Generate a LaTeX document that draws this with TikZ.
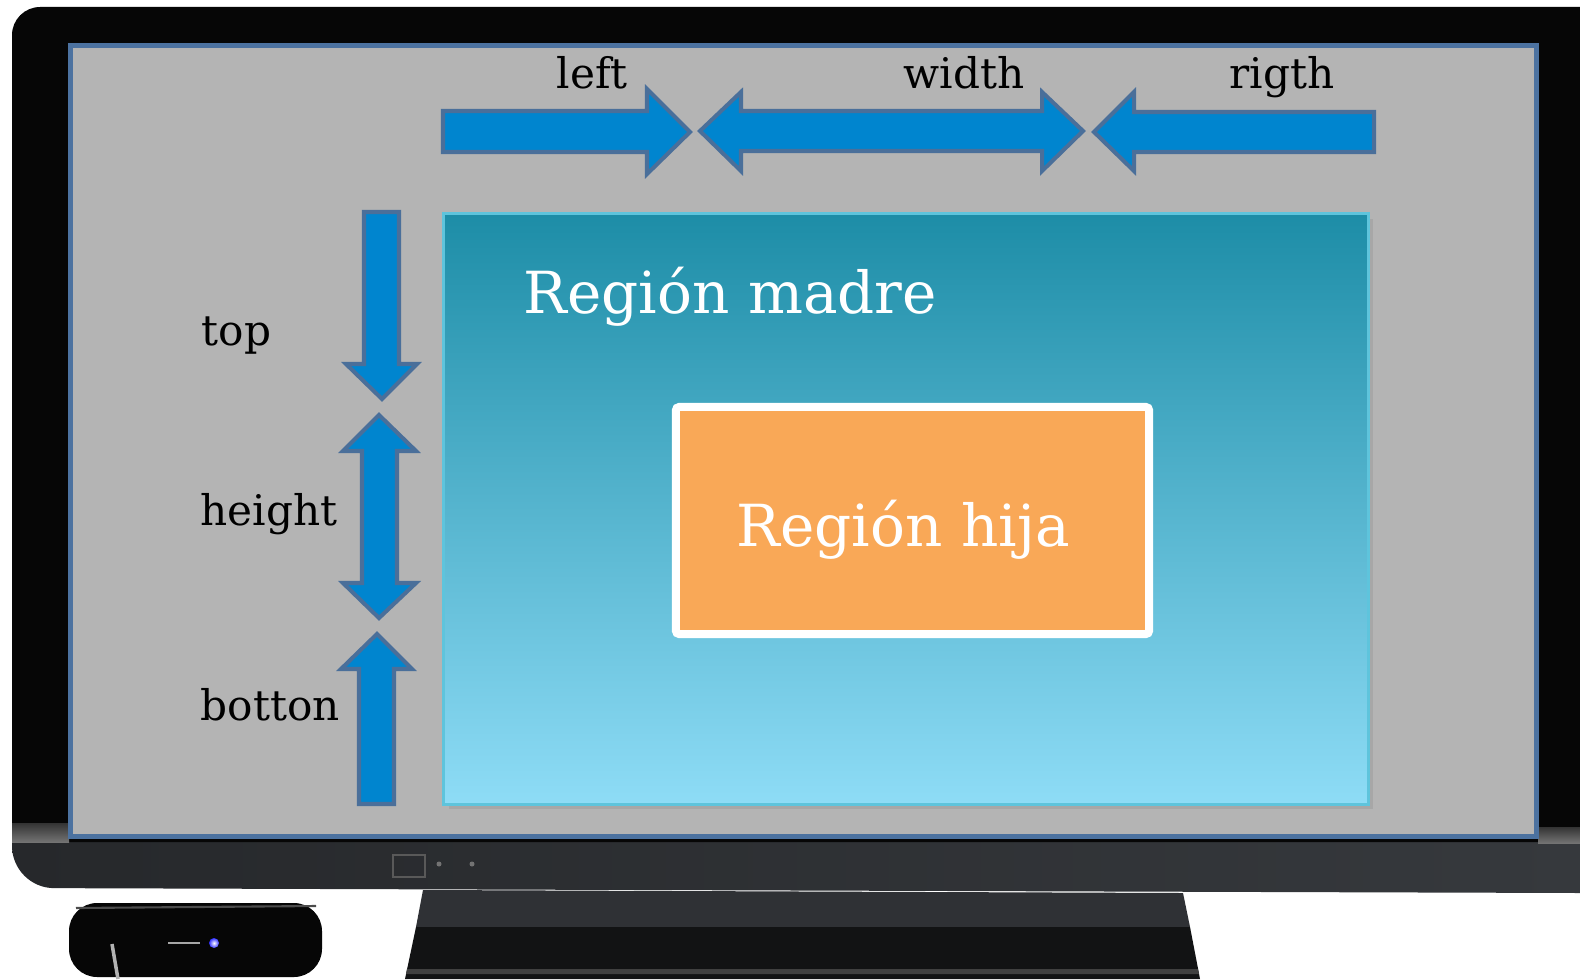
\documentclass[tikz,border=0pt]{standalone}
\usepackage{fontspec}
\setmainfont{DejaVu Serif}

\definecolor{tvblack}{HTML}{060606}
\definecolor{bezeldark}{HTML}{26282B}
\definecolor{bezellight}{HTML}{36393D}
\definecolor{standtop}{HTML}{2F3135}
\definecolor{standlow}{HTML}{121314}
\definecolor{screengray}{HTML}{B4B4B4}
\definecolor{screenedge}{HTML}{4C72A0}
\definecolor{arrowblue}{HTML}{0085CF}
\definecolor{arrowedge}{HTML}{4A6F9A}
\definecolor{madretop}{HTML}{1D8DA7}
\definecolor{madrebottom}{HTML}{8EDCF6}
\definecolor{madreedge}{HTML}{5EC4DC}
\definecolor{hijafill}{HTML}{F9A857}

\tikzset{
  dimarrow/.style={fill=arrowblue, draw=arrowedge, line width=1.15pt, line join=miter},
  dimlabel/.style={anchor=base west, inner sep=0pt, font=\fontsize{12}{14}\selectfont},
  regionlabel/.style={anchor=base west, inner sep=0pt, text=white, font=\fontsize{16.5}{20}\selectfont},
  screenbox/.style={rectangle, fill=screengray, draw=screenedge, line width=1.3pt,
    minimum width=14.65cm, minimum height=7.9cm, inner sep=0pt},
  madrebox/.style={rectangle, top color=madretop, bottom color=madrebottom, draw=madreedge,
    line width=0.9pt, minimum width=9.24cm, minimum height=5.9cm, inner sep=0pt},
  hijabox/.style={rectangle, fill=hijafill, draw=white, line width=2.3pt, rounded corners=1pt,
    minimum width=4.73cm, minimum height=2.27cm, inner sep=0pt},
}

\begin{document}
\begin{tikzpicture}[x=0.01cm, y=-0.01cm]
  \useasboundingbox (0,0) rectangle (1580,979);
  \fill[white] (0,0) rectangle (1580,979);

  % Draw the stand under the set
  \fill[standtop] (423,890) -- (1183,893) -- (1190,927) -- (416,927) -- cycle;
  \fill[standlow] (416,927) -- (1190,927) -- (1200,979) -- (405,979) -- cycle;
  \fill[black!75] (407,969) -- (1198,969) -- (1199,974) -- (406,974) -- cycle;

  % Draw the bezel and the black frame
  \shade[left color=bezeldark, right color=bezellight]
    (1580,820) -- (12,820) {[rounded corners=12] -- (12,888)} -- (1580,893) -- cycle;
  \fill[tvblack] (12,842) {[rounded corners=8] -- (12,7)} -- (1580,7) -- (1580,842) -- cycle;
  \shade[top color=black!80, bottom color=black!55] (12,823) rectangle (69,842);
  \shade[top color=black!80, bottom color=black!55] (1538,827) rectangle (1580,843);

  % Draw the buttons on the bezel
  \draw[black!65, line width=0.4pt] (393,855) rectangle (425,877);
  \fill[black!55] (439,864) circle [radius=2.5];
  \fill[black!55] (472,864) circle [radius=2.5];

  % Draw the set-top box
  \fill[tvblack, rounded corners=8] (69,903) rectangle (322,977);
  \draw[black!70, line width=0.6pt] (76,908) -- (316,906);
  \draw[black!35, line width=0.5pt] (168,943) -- (200,943);
  \draw[black!30, line width=1pt] (112,944) -- (118,979);
  \shade[inner color=white, outer color=blue!80] (214,943) circle [radius=5];

  % Draw the screen
  \node[screenbox] (screen) at (803.5,441) {};

  % Draw the parent region with its shadow
  \fill[black!40, opacity=0.45] (449,219) rectangle (1373,809);
  \node[madrebox] (madre) at (906,509) {};
  \node[regionlabel] (madretext) at (523,313) {Región madre};

  % Draw the child region
  \node[hijabox] (hija) at (912.5,520.5) {};
  \node[regionlabel] (hijatext) at (736,546) {Región hija};

  % Draw the horizontal arrows
  \draw[dimarrow] (443,111) -- (647,111) -- (647,89) -- (690,132) -- (647,174)
    -- (647,152) -- (443,152) -- cycle;
  \draw[dimarrow] (700,131) -- (741,92) -- (741,111) -- (1042,111) -- (1042,92)
    -- (1083,131) -- (1042,171) -- (1042,151) -- (741,151) -- (741,171) -- cycle;
  \draw[dimarrow] (1094,132) -- (1134,92) -- (1134,112) -- (1374,112) -- (1374,152)
    -- (1134,152) -- (1134,171) -- cycle;

  % Draw the vertical arrows
  \draw[dimarrow] (364,212) -- (399,212) -- (399,364) -- (417,364) -- (382,399)
    -- (346,364) -- (364,364) -- cycle;
  \draw[dimarrow] (379,415) -- (416,451) -- (397,451) -- (397,583) -- (416,583)
    -- (379,618) -- (343,583) -- (362,583) -- (362,451) -- (343,451) -- cycle;
  \draw[dimarrow] (377,634) -- (412,669) -- (394,669) -- (394,804) -- (359,804)
    -- (359,669) -- (341,669) -- cycle;

  % Labels of the arrows
  \node[dimlabel] (leftlbl) at (556,89) {left};
  \node[dimlabel] (widthlbl) at (903,89) {width};
  \node[dimlabel] (rightlbl) at (1229,89) {rigth};
  \node[dimlabel] (toplbl) at (201,345) {top};
  \node[dimlabel] (heightlbl) at (200,525) {height};
  \node[dimlabel] (bottomlbl) at (200,720) {botton};
\end{tikzpicture}
\end{document}
